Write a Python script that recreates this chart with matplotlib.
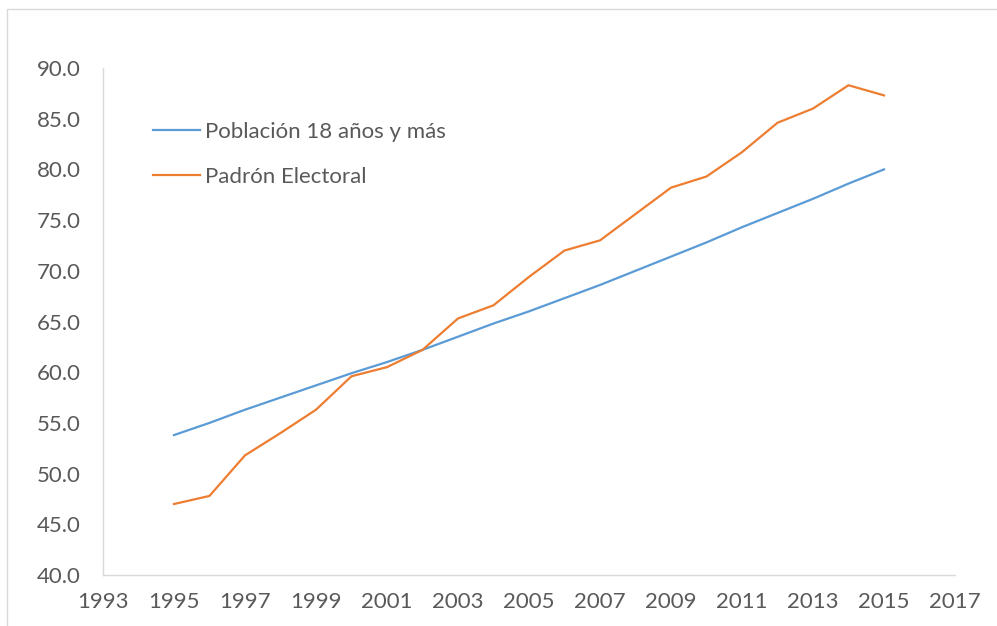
import matplotlib
matplotlib.use("Agg")
import matplotlib.pyplot as plt
import matplotlib.patches as patches

# Data
years = list(range(1995, 2016))
poblacion = [53.8, 55.0, 56.3, 57.5, 58.7, 59.9, 61.0, 62.2, 63.5, 64.8, 66.0,
             67.3, 68.6, 70.0, 71.4, 72.8, 74.3, 75.7, 77.1, 78.6, 80.0]
padron = [47.0, 47.8, 51.8, 54.0, 56.3, 59.6, 60.5, 62.2, 65.3, 66.6, 69.4,
          72.0, 73.0, 75.6, 78.2, 79.3, 81.7, 84.6, 86.0, 88.3, 87.3]
series_names = ["Población 18 años y más", "Padrón Electoral"]
x_ticks = list(range(1993, 2018, 2))
y_ticks = [40, 45, 50, 55, 60, 65, 70, 75, 80, 85, 90]

plt.rcParams['font.family'] = ['Lato', 'DejaVu Sans']

fig = plt.figure(figsize=(9.97, 6.26), dpi=100)
ax = fig.add_axes([103 / 997, 51 / 626, 852 / 997, 507 / 626])

# light outer border of the chart area
border = patches.Rectangle((7 / 997, -0.05), 1.2, (626 - 9.5) / 626 + 0.05,
                           transform=fig.transFigure, fill=False,
                           edgecolor='#d9d9d9', linewidth=1.0)
fig.patches.append(border)

ax.plot(years, poblacion, color='#5B9BD5', linewidth=1.6, label=series_names[0])
ax.plot(years, padron, color='#ED7D31', linewidth=1.6, label=series_names[1])

ax.set_xlim(1993, 2017)
ax.set_ylim(40, 90)
ax.set_xticks(x_ticks)
ax.set_yticks(y_ticks)
ax.set_yticklabels([f"{v:.1f}" for v in y_ticks])

for side in ['top', 'right']:
    ax.spines[side].set_visible(False)
for side in ['left', 'bottom']:
    ax.spines[side].set_color('#d9d9d9')
    ax.spines[side].set_linewidth(1.0)

ax.tick_params(axis='both', length=0, labelsize=16, labelcolor='#595959')
ax.tick_params(axis='x', pad=12)
ax.tick_params(axis='y', pad=16)

leg = ax.legend(loc='upper left', bbox_to_anchor=(0.0587, 0.893), frameon=False,
                fontsize=16, handlelength=2.1, handletextpad=0.22,
                labelspacing=1.12, borderaxespad=0, borderpad=0)
for t in leg.get_texts():
    t.set_color('#595959')

fig.savefig("out.png", dpi=100)
